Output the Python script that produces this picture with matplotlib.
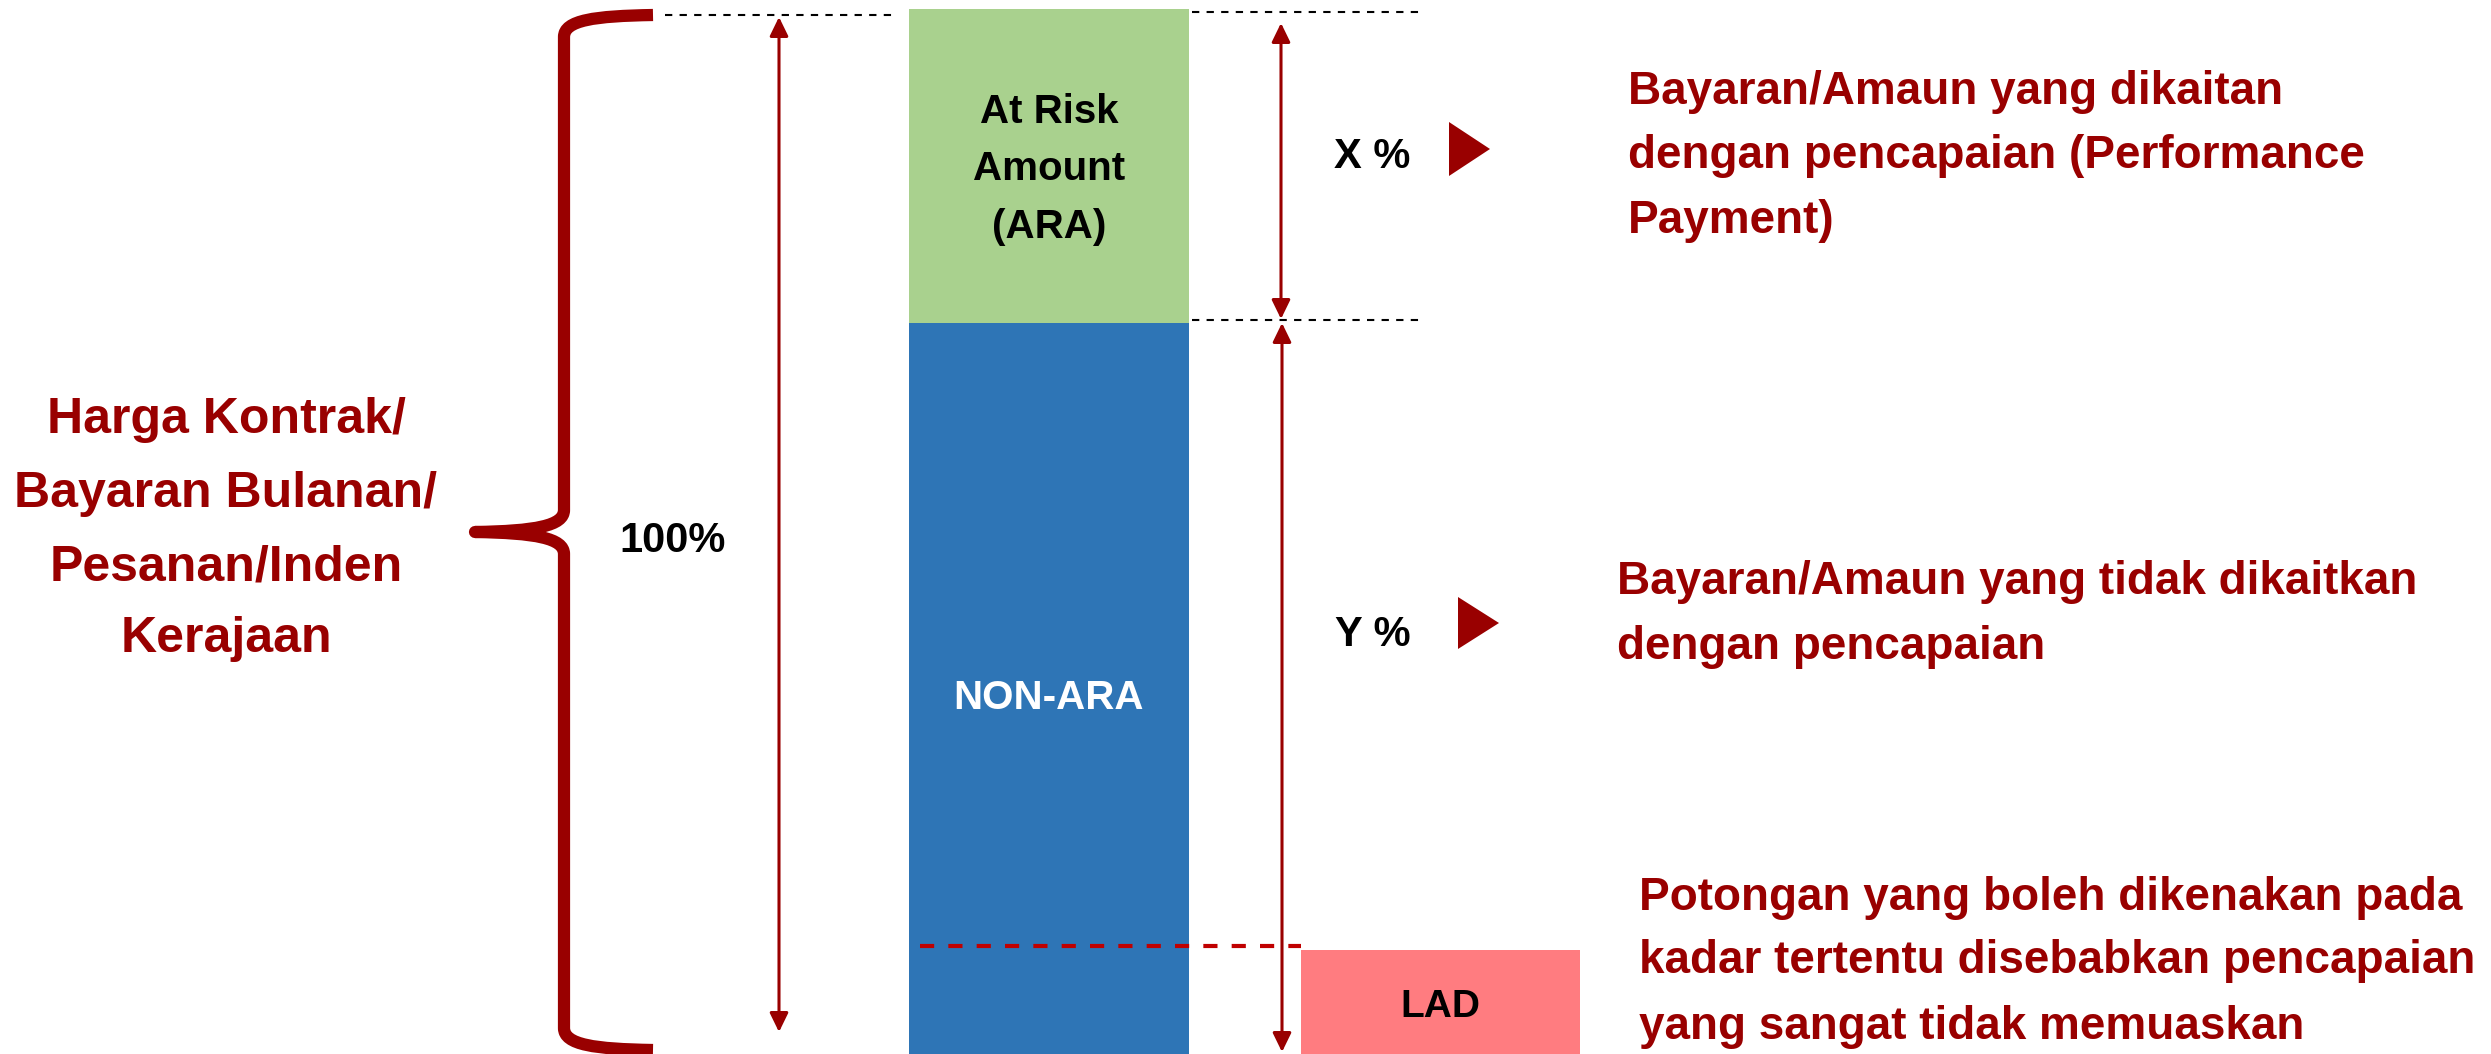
import matplotlib.pyplot as plt
from matplotlib.path import Path
from matplotlib.patches import PathPatch, Polygon

# Contract value split (percent of the total, top segment first)
segments = ['At Risk\nAmount\n(ARA)', 'NON-ARA']
shares = [30, 70]
seg_colors = ['#A9D18E', '#2E75B6']
seg_text_colors = ['black', 'white']
share_labels = ['X %', 'Y %']
total = 100
lad_level = 10
lad_label = 'LAD'
total_label = '100%'

left_label = ['Harga Kontrak/', 'Bayaran Bulanan/', 'Pesanan/Inden', 'Kerajaan']
notes = [
    ['Bayaran/Amaun yang dikaitan', 'dengan pencapaian (Performance', 'Payment)'],
    ['Bayaran/Amaun yang tidak dikaitkan', 'dengan pencapaian'],
    ['Potongan yang boleh dikenakan pada', 'kadar tertentu disebabkan pencapaian',
     'yang sangat tidak memuaskan'],
]

DARK_RED = '#990000'
W, H = 2491, 1054
plt.rcParams['font.family'] = ['Liberation Sans', 'DejaVu Sans']
plt.rcParams['font.weight'] = 'bold'

fig = plt.figure(figsize=(W / 100, H / 100), dpi=100)
ax = fig.add_axes([0, 0, 1, 1])
top_px = 9
scale = (H - top_px) / total          # pixels per percent
ax.set_xlim(0, W)
ax.set_ylim(0, H / scale)
ax.axis('off')


def yp(px):
    # layout helper: pixel row (from the top) -> axis units
    return (H - px) / scale


# stacked column
bottoms = [total - sum(shares[:i + 1]) for i in range(len(shares))]
bar_x, bar_w = 1049, 280
ax.bar(bar_x, shares, bottom=bottoms, width=bar_w, color=seg_colors, linewidth=0)
seg_baselines = [[123, 180, 238], [709]]
for lab, col, bls in zip(segments, seg_text_colors, seg_baselines):
    for line, b in zip(lab.split('\n'), bls):
        ax.text(bar_x, yp(b), line, ha='center', va='baseline', fontsize=29, color=col)

# LAD box
ax.bar(1440.5, lad_level, width=279, bottom=0, color='#FF7C80', linewidth=0)
ax.text(1440, yp(1017), lad_label, ha='center', va='baseline', fontsize=28, color='black')
ax.plot([920, 1301], [lad_level + 0.35] * 2, color='#C00000', lw=3,
        linestyle=(0, (3.4, 3.4)))

# dashed guide lines (drawn a few pixels below the exact level, as in the source)
dash = dict(color='black', lw=1.5, linestyle=(0, (3.5, 3.5)))
ax.plot([665, 898], [total - 0.6] * 2, **dash)
ax.plot([1192, 1424], [total - 0.3] * 2, **dash)
ax.plot([1192, 1424], [total - shares[0] + 0.2] * 2, **dash)

# double arrows
arr = dict(arrowstyle='<|-|>,head_length=11.5,head_width=5.6', mutation_scale=1,
           color=DARK_RED, lw=2.2, shrinkA=0, shrinkB=0)
ax.annotate('', xy=(779, yp(1032)), xytext=(779, yp(17)), arrowprops=arr)
ax.annotate('', xy=(1281, yp(319)), xytext=(1281, yp(23)), arrowprops=arr)
ax.annotate('', xy=(1282, yp(1052)), xytext=(1282, yp(323)), arrowprops=arr)

ax.text(673, yp(552), total_label, ha='center', va='baseline', fontsize=30, color='black')
ax.text(1372, yp(168), share_labels[0], ha='center', va='baseline', fontsize=30, color='black')
ax.text(1373, yp(646), share_labels[1], ha='center', va='baseline', fontsize=30, color='black')

# pointer triangles
for x0, t, b in [(1449, 122, 176), (1458, 597, 649)]:
    ax.add_patch(Polygon([(x0, yp(t)), (x0, yp(b)), (x0 + 41, yp((t + b) / 2))],
                         closed=True, color=DARK_RED, lw=0))

# curly brace
bx, tip_x, end_x = 564, 475, 653
top, mid, bot = 15, 532, 1050
pts = [(end_x, top), (595, top + 1), (bx, top + 5), (bx, top + 22),
       (bx, mid - 22),
       (bx, mid - 6), (535, mid - 1), (tip_x, mid),
       (535, mid + 1), (bx, mid + 6), (bx, mid + 22),
       (bx, bot - 22),
       (bx, bot - 5), (595, bot - 1), (end_x, bot)]
codes = [Path.MOVETO, Path.CURVE4, Path.CURVE4, Path.CURVE4, Path.LINETO,
         Path.CURVE4, Path.CURVE4, Path.CURVE4, Path.CURVE4, Path.CURVE4, Path.CURVE4,
         Path.LINETO, Path.CURVE4, Path.CURVE4, Path.CURVE4]
brace = Path([(x, yp(y)) for x, y in pts], codes)
ax.add_patch(PathPatch(brace, facecolor='none', edgecolor=DARK_RED, lw=8.8,
                       capstyle='butt', joinstyle='round'))

# left label
for line, b in zip(left_label, [433, 507, 580, 652]):
    ax.text(226, yp(b), line, ha='center', va='baseline', fontsize=36, color=DARK_RED)

# right-hand notes
note_pos = [(1628, [104, 168, 233]), (1617, [594, 659]), (1639, [910, 973, 1039])]
for lines, (x0, bls) in zip(notes, note_pos):
    for line, b in zip(lines, bls):
        ax.text(x0, yp(b), line, ha='left', va='baseline', fontsize=33, color=DARK_RED)

fig.savefig('out.png', dpi=100, facecolor='white')
